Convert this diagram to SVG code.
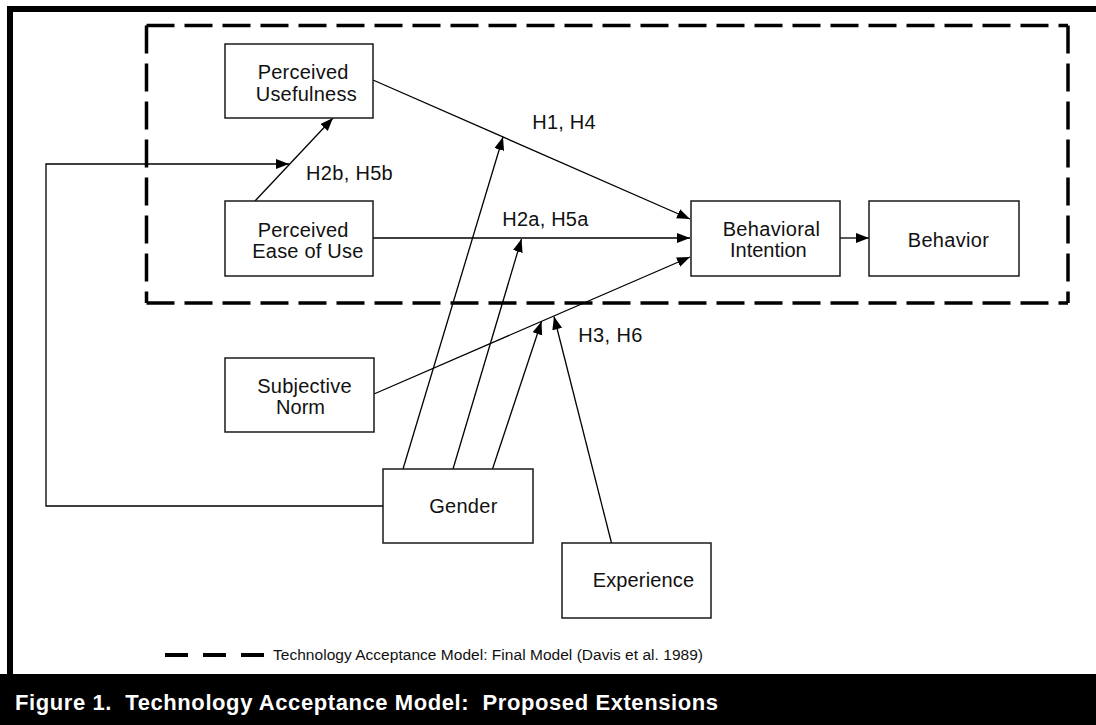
<svg xmlns="http://www.w3.org/2000/svg" width="1096" height="725" viewBox="0 0 1096 725">
<style>
.box{fill:#fff;stroke:#1a1a1a;stroke-width:1.5}
.t{font-family:"Liberation Sans",Arial,sans-serif;font-size:20px;fill:#111}
.lbl{font-family:"Liberation Sans",Arial,sans-serif;font-size:20px;fill:#111}
.con{fill:none;stroke:#000;stroke-width:1.3}
.tam{fill:none;stroke:#000;stroke-width:3.5;stroke-dasharray:28 10}
</style>
<defs>
<marker id="arr" markerWidth="14" markerHeight="11" refX="13" refY="5" orient="auto" markerUnits="userSpaceOnUse">
<path d="M0,0 L13,5 L0,10 z" fill="#000"/>
</marker>
</defs>
<rect x="0" y="0" width="1096" height="725" fill="#fff"/>
<!-- outer frame -->
<rect x="7" y="6" width="1089" height="6" fill="#000"/>
<rect x="7" y="6" width="6" height="668" fill="#000"/>
<rect x="0" y="674" width="1096" height="51" fill="#000"/>
<text x="15" y="710" textLength="703" lengthAdjust="spacing" style="font-family:'Liberation Sans',Arial,sans-serif;font-size:22px;font-weight:bold;fill:#fff;white-space:pre">Figure 1.  Technology Acceptance Model:  Proposed Extensions</text>
<!-- TAM dashed boundary -->
<g id="tam-boundary">
<path class="tam" d="M146.5,25.5 H1068"/>
<path class="tam" d="M1068,25.5 V303"/>
<path class="tam" d="M146.5,303 H1068"/>
<path class="tam" d="M146.5,25.5 V303"/>
</g>
<!-- legend -->
<g id="legend">
<path d="M165,655 H265" stroke="#000" stroke-width="4" stroke-dasharray="23 15" fill="none"/>
<text x="273" y="660" textLength="430" lengthAdjust="spacing" style="font-family:'Liberation Sans',Arial,sans-serif;font-size:15.5px;fill:#111">Technology Acceptance Model: Final Model (Davis et al. 1989)</text>
</g>
<!-- connectors -->
<g id="connectors">
<line class="con" x1="373" y1="80" x2="690" y2="219" marker-end="url(#arr)"/>
<line class="con" x1="373" y1="238" x2="690" y2="238" marker-end="url(#arr)"/>
<line class="con" x1="374" y1="394" x2="690" y2="257" marker-end="url(#arr)"/>
<line class="con" x1="840" y1="238" x2="869" y2="238" marker-end="url(#arr)"/>
<line class="con" x1="255" y1="201" x2="333" y2="118" marker-end="url(#arr)"/>
<polyline class="con" points="383,506 46,506 46,164 289,164" marker-end="url(#arr)"/>
<line class="con" x1="403" y1="469" x2="503" y2="137" marker-end="url(#arr)"/>
<line class="con" x1="453" y1="469" x2="521.5" y2="239" marker-end="url(#arr)"/>
<line class="con" x1="492.5" y1="469" x2="541.5" y2="321.5" marker-end="url(#arr)"/>
<line class="con" x1="611.5" y1="543" x2="554" y2="316.5" marker-end="url(#arr)"/>
<text class="lbl" x="306" y="180" textLength="86.7" lengthAdjust="spacing">H2b, H5b</text>
<text class="lbl" x="532.3" y="129" textLength="63.3" lengthAdjust="spacing">H1, H4</text>
<text class="lbl" x="502.3" y="226" textLength="86" lengthAdjust="spacing">H2a, H5a</text>
<text class="lbl" x="578.3" y="341.7" textLength="64" lengthAdjust="spacing">H3, H6</text>
</g>
<!-- nodes -->
<g id="perceived-usefulness">
<rect class="box" x="225" y="44" width="148" height="74"/>
<text class="t" x="257.7" y="79.3" textLength="90.7" lengthAdjust="spacing">Perceived</text>
<text class="t" x="255.7" y="100.7" textLength="101" lengthAdjust="spacing">Usefulness</text>
</g>
<g id="perceived-ease-of-use">
<rect class="box" x="225" y="201" width="148" height="75"/>
<text class="t" x="257.7" y="236.7" textLength="90.7" lengthAdjust="spacing">Perceived</text>
<text class="t" x="252.3" y="258.3" textLength="111" lengthAdjust="spacing">Ease of Use</text>
</g>
<g id="behavioral-intention">
<rect class="box" x="691" y="201" width="149" height="75"/>
<text class="t" x="722.7" y="235.7" textLength="97.3" lengthAdjust="spacing">Behavioral</text>
<text class="t" x="730" y="257.3" textLength="76.7" lengthAdjust="spacing">Intention</text>
</g>
<g id="behavior">
<rect class="box" x="869" y="201" width="150" height="75"/>
<text class="t" x="907.7" y="246.7" textLength="81.3" lengthAdjust="spacing">Behavior</text>
</g>
<g id="subjective-norm">
<rect class="box" x="225" y="358" width="149" height="74"/>
<text class="t" x="257.3" y="392.7" textLength="94.3" lengthAdjust="spacing">Subjective</text>
<text class="t" x="276" y="414.3" textLength="49" lengthAdjust="spacing">Norm</text>
</g>
<g id="gender">
<rect class="box" x="383" y="469" width="150" height="74"/>
<text class="t" x="429.3" y="513.3" textLength="68" lengthAdjust="spacing">Gender</text>
</g>
<g id="experience">
<rect class="box" x="562" y="543" width="149" height="75"/>
<text class="t" x="592.7" y="587.3" textLength="101.3" lengthAdjust="spacing">Experience</text>
</g>
</svg>
